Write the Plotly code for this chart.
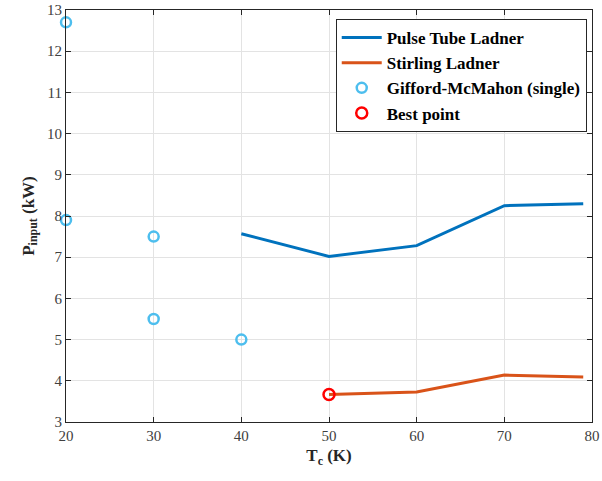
import plotly.graph_objects as go

pt_x = [40, 50, 60, 70, 79]
pt_y = [7.57, 7.02, 7.28, 8.25, 8.30]
st_x = [50, 60, 70, 79]
st_y = [3.67, 3.73, 4.14, 4.09]
gm_x = [20, 20, 30, 30, 40]
gm_y = [12.7, 7.9, 7.5, 5.5, 5.0]
best_x = [50]
best_y = [3.67]

font = "Liberation Serif, Times New Roman, serif"

fig = go.Figure()
fig.add_trace(go.Scatter(x=pt_x, y=pt_y, mode="lines", name="Pulse Tube Ladner",
                         line=dict(color="#0072BD", width=3)))
fig.add_trace(go.Scatter(x=st_x, y=st_y, mode="lines", name="Stirling Ladner",
                         line=dict(color="#D95319", width=3)))
fig.add_trace(go.Scatter(x=gm_x, y=gm_y, mode="markers", name="Gifford-McMahon (single)",
                         marker=dict(symbol="circle-open", size=10, color="#4DBEEE",
                                     line=dict(width=2.5, color="#4DBEEE")),
                         cliponaxis=False))
fig.add_trace(go.Scatter(x=best_x, y=best_y, mode="markers", name="Best point",
                         marker=dict(symbol="circle-open", size=11, color="#FF0000",
                                     line=dict(width=2.5, color="#FF0000"))))

axis_common = dict(showline=True, linecolor="#262626", linewidth=1, mirror="ticks",
                   ticks="inside", ticklen=5, tickcolor="#262626", automargin=False,
                   showgrid=True, gridcolor="#E3E3E3", gridwidth=1, zeroline=False,
                   tickfont=dict(family=font, size=15, color="#404040"))

fig.update_xaxes(range=[20, 80], dtick=10, tick0=20,
                 title=dict(text="<b>T<sub>c</sub> (K)</b>", font=dict(family=font, size=17, color="#262626"),
                            standoff=6),
                 **axis_common)
fig.update_yaxes(range=[3, 13], dtick=1, tick0=3,
                 title=dict(text="<b>P<sub>input</sub> (kW)</b>", font=dict(family=font, size=17, color="#262626"),
                            standoff=8),
                 **axis_common)

fig.update_layout(
    width=602, height=481,
    margin=dict(l=66, r=10, t=10, b=59),
    paper_bgcolor="white", plot_bgcolor="white",
    showlegend=True,
    legend=dict(x=0.99, y=0.978, xanchor="right", yanchor="top",
                bgcolor="white", bordercolor="#262626", borderwidth=1,
                font=dict(family=font, size=17, color="#000000", weight="bold"),
                tracegroupgap=0, itemwidth=40),
)
fig.write_html("out.html")
